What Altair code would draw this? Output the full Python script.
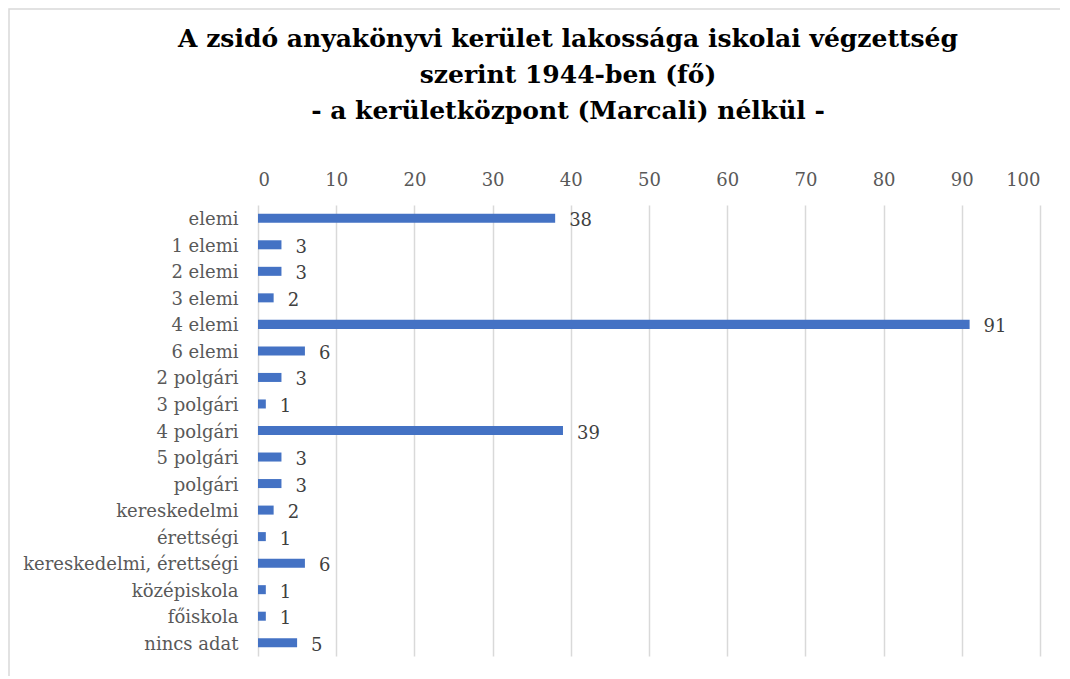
import altair as alt
import pandas as pd

categories = ["elemi", "1 elemi", "2 elemi", "3 elemi", "4 elemi", "6 elemi",
              "2 polgári", "3 polgári", "4 polgári", "5 polgári", "polgári",
              "kereskedelmi", "érettségi", "kereskedelmi, érettségi",
              "középiskola", "főiskola", "nincs adat"]
values = [38, 3, 3, 2, 91, 6, 3, 1, 39, 3, 3, 2, 1, 6, 1, 1, 5]
x_ticks = [0, 10, 20, 30, 40, 50, 60, 70, 80, 90, 100]

df = pd.DataFrame({"cat": categories, "val": values})

FONT = "DejaVu Serif"

base = alt.Chart(df)

y_enc = alt.Y("cat:N", sort=categories, title=None,
              scale=alt.Scale(paddingInner=0.66, paddingOuter=0.33),
              axis=alt.Axis(labelFont=FONT, labelFontSize=18, labelColor="#595959",
                            labelPadding=20, labelLimit=400, labelOffset=2,
                            ticks=False, domain=False, grid=False))
x_enc = alt.X("val:Q", title=None,
              scale=alt.Scale(domain=[0, 100], nice=False),
              axis=alt.Axis(orient="top", values=x_ticks, labelFont=FONT,
                            labelFontSize=18, labelColor="#595959", ticks=False,
                            domain=False, labelPadding=16, grid=True,
                            gridColor="#d9d9d9", gridWidth=1.5))

bars = base.mark_bar(color="#4472C4").encode(x=x_enc, y=y_enc)

labels = base.mark_text(align="left", baseline="middle", dx=14, dy=3,
                        font=FONT, fontSize=18, color="#404040").encode(
    x="val:Q", y=alt.Y("cat:N", sort=categories), text="val:Q")

frame = alt.Chart(pd.DataFrame({"a": [0]})).mark_rect(
    fill=None, stroke="#d9d9d9", strokeWidth=1.5).encode(
    x=alt.value(-249), x2=alt.value(830), y=alt.value(-196), y2=alt.value(490))

chart = alt.layer(frame, bars, labels).properties(
    width=782, height=451,
    padding={"left": 250, "top": 197, "right": 20, "bottom": 20},
    autosize=alt.AutoSizeParams(type="none"),
    title=alt.TitleParams(
        text=["A zsidó anyakönyvi kerület lakossága iskolai végzettség",
              "szerint 1944-ben (fő)",
              "- a kerületközpont (Marcali) nélkül -"],
        font=FONT, fontSize=25, fontWeight="bold", color="#000000",
        anchor="middle", dx=-81, offset=-116, lineHeight=36)
).configure_view(stroke=None)

chart.save("out.html", embed_options={"renderer": "svg", "actions": False})
